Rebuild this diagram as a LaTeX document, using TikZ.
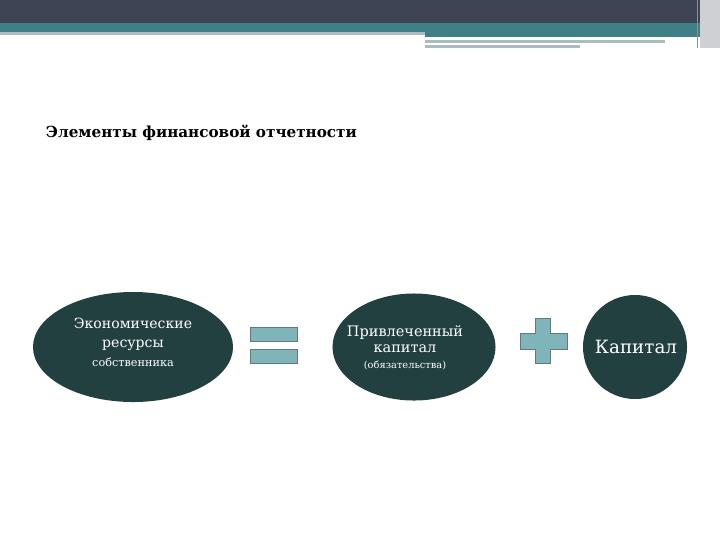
\documentclass[tikz,border=0pt]{standalone}
\usepackage{fontspec}
\setmainfont{DejaVu Serif}
\usetikzlibrary{shapes.geometric}
\definecolor{topbar}{HTML}{3F4455}
\definecolor{tealbar}{HTML}{3F8087}
\definecolor{greyline}{HTML}{A9BCC0}
\definecolor{darkteal}{HTML}{22403F}
\definecolor{lightteal}{HTML}{7FB5B8}
\tikzset{
	blob/.style={ellipse, fill=darkteal, inner sep=0pt},
	blobtext/.style={text=white, align=center, inner sep=0pt},
	bar/.style={rectangle, fill=lightteal, draw=darkteal!70, line width=0.5pt, inner sep=0pt}
}
\begin{document}
\begin{tikzpicture}[x=0.025cm, y=-0.025cm]
			\useasboundingbox (0,0) rectangle (720,540);
			%header bands
			\fill[topbar] (0,0) rectangle (720,24);
			\fill[tealbar] (0,23) rectangle (700,32);
			\fill[tealbar] (425,31) rectangle (700,37);
			\fill[greyline] (0,32) rectangle (425,35);
			\fill[greyline] (425,40) rectangle (665,43);
			\fill[greyline] (425,45) rectangle (580,48);
			\fill[topbar!25] (700,0) rectangle (720,48);
			\draw[topbar!60, thin] (697,0) -- (697,48);
			
			%title
			\node[anchor=west, font=\bfseries\fontsize{10.8}{12}\selectfont] (title) at (41,133){Элементы финансовой отчетности};
			
			%equation parts
			\node[blob, minimum width=5cm, minimum height=2.75cm] (resources) at (133,347){};
			\node[blobtext] (resourcestext) at (133,342)
				{{\fontsize{10}{12}\selectfont Экономические}\\[1.5pt]{\fontsize{10}{12}\selectfont ресурсы}\\[1.5pt]{\fontsize{8}{10}\selectfont собственника}};
			\node[blob, minimum width=4.075cm, minimum height=2.675cm] (liabilities) at (414,347){};
			\node[blobtext] (liabilitiestext) at (405,348)
				{{\fontsize{10.3}{12}\selectfont Привлеченный}\\[-0.5pt]{\fontsize{10.3}{12}\selectfont капитал}\\[-1pt]{\fontsize{7}{8}\selectfont (обязательства)}};
			\node[circle, fill=darkteal, minimum size=2.6cm, inner sep=0pt] (equity) at (635,347){};
			\node[blobtext, font=\fontsize{13}{15}\selectfont] (equitytext) at (636,347){Капитал};
			
			%equals sign
			\node[bar, minimum width=1.175cm, minimum height=0.35cm] (eqtop) at (273.5,334){};
			\node[bar, minimum width=1.175cm, minimum height=0.35cm] (eqbottom) at (273.5,356){};
			
			%plus sign
			\fill[lightteal, draw=darkteal!70, line width=0.5pt]
				(535,318) -- (550,318) -- (550,333) -- (567,333) -- (567,349) -- (550,349)
				-- (550,363) -- (535,363) -- (535,349) -- (520,349) -- (520,333) -- (535,333) -- cycle;
		\end{tikzpicture}
\end{document}
